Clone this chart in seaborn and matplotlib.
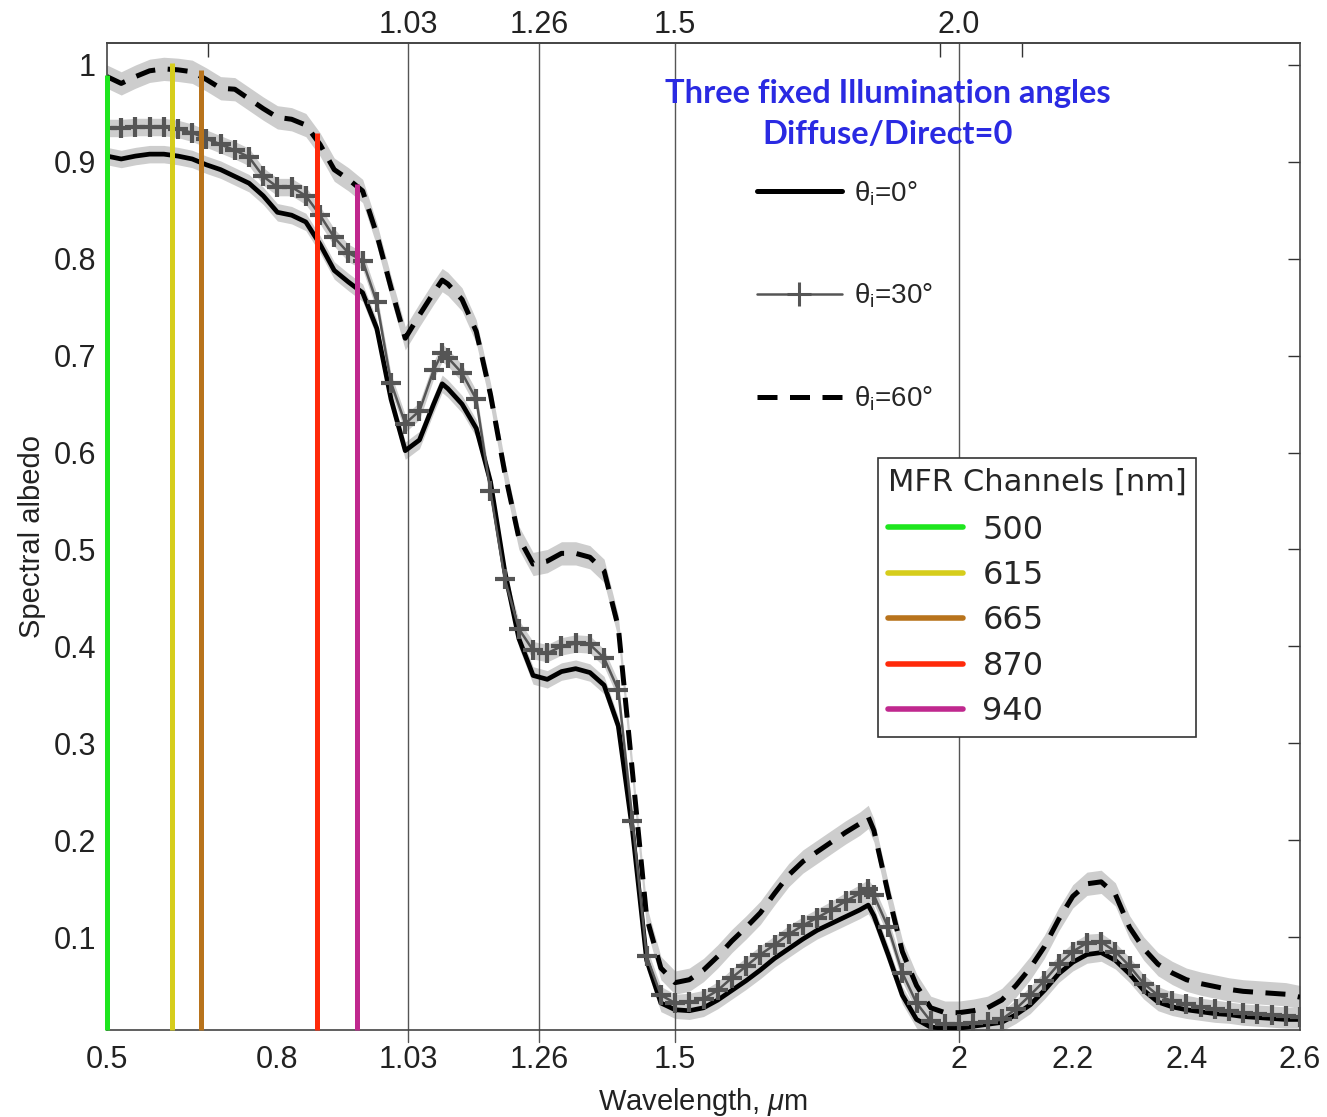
import matplotlib
matplotlib.use("Agg")
import matplotlib.pyplot as plt
import seaborn as sns
import pandas as pd
from matplotlib.lines import Line2D

# ---------------- data ----------------
wavelength_um = [0.500, 0.525, 0.550, 0.575, 0.600, 0.625, 0.650, 0.675, 0.700, 0.725,
                 0.750, 0.775, 0.800, 0.825, 0.850, 0.875, 0.900, 0.925, 0.950, 0.975,
                 1.000, 1.025, 1.050, 1.075, 1.090, 1.100, 1.125, 1.150, 1.175, 1.200,
                 1.225, 1.250, 1.275, 1.300, 1.325, 1.350, 1.375, 1.400, 1.425, 1.450,
                 1.475, 1.500, 1.525, 1.550, 1.575, 1.600, 1.625, 1.650, 1.675, 1.700,
                 1.725, 1.750, 1.775, 1.800, 1.825, 1.840, 1.850, 1.875, 1.900, 1.925,
                 1.950, 1.975, 2.000, 2.025, 2.050, 2.075, 2.100, 2.125, 2.150, 2.175,
                 2.200, 2.225, 2.250, 2.275, 2.300, 2.325, 2.350, 2.375, 2.400, 2.425,
                 2.450, 2.475, 2.500, 2.525, 2.550, 2.575, 2.600]

albedo_theta0 = [0.906, 0.903, 0.906, 0.908, 0.908, 0.906, 0.903, 0.897, 0.892, 0.885,
                 0.878, 0.865, 0.848, 0.845, 0.838, 0.815, 0.788, 0.776, 0.765, 0.728,
                 0.655, 0.602, 0.613, 0.650, 0.671, 0.666, 0.650, 0.625, 0.570, 0.478,
                 0.408, 0.370, 0.366, 0.374, 0.377, 0.373, 0.360, 0.318, 0.210, 0.076,
                 0.032, 0.025, 0.024, 0.027, 0.035, 0.045, 0.055, 0.066, 0.078, 0.088,
                 0.098, 0.107, 0.114, 0.121, 0.128, 0.133, 0.122, 0.082, 0.040, 0.015,
                 0.007, 0.006, 0.006, 0.008, 0.010, 0.012, 0.020, 0.030, 0.045, 0.062,
                 0.074, 0.082, 0.084, 0.076, 0.062, 0.045, 0.033, 0.028, 0.025, 0.023,
                 0.021, 0.020, 0.018, 0.017, 0.016, 0.015, 0.015]

albedo_theta30 = [0.935, 0.935, 0.936, 0.936, 0.936, 0.934, 0.930, 0.924, 0.918, 0.912,
                  0.905, 0.885, 0.874, 0.874, 0.865, 0.845, 0.822, 0.806, 0.798, 0.755,
                  0.672, 0.630, 0.643, 0.685, 0.703, 0.698, 0.682, 0.655, 0.560, 0.470,
                  0.418, 0.396, 0.393, 0.400, 0.403, 0.402, 0.388, 0.355, 0.220, 0.080,
                  0.040, 0.032, 0.033, 0.036, 0.045, 0.058, 0.070, 0.082, 0.092, 0.103,
                  0.112, 0.120, 0.128, 0.137, 0.145, 0.150, 0.143, 0.110, 0.063, 0.032,
                  0.013, 0.010, 0.010, 0.011, 0.012, 0.015, 0.026, 0.040, 0.055, 0.072,
                  0.085, 0.094, 0.095, 0.085, 0.070, 0.052, 0.040, 0.034, 0.031, 0.028,
                  0.026, 0.024, 0.022, 0.021, 0.020, 0.019, 0.018]

albedo_theta60 = [0.988, 0.981, 0.988, 0.994, 0.996, 0.995, 0.993, 0.985, 0.976, 0.975,
                  0.965, 0.955, 0.946, 0.944, 0.938, 0.918, 0.892, 0.882, 0.870, 0.825,
                  0.770, 0.718, 0.742, 0.765, 0.778, 0.774, 0.758, 0.725, 0.660, 0.580,
                  0.512, 0.485, 0.488, 0.496, 0.496, 0.492, 0.478, 0.420, 0.270, 0.120,
                  0.068, 0.053, 0.056, 0.066, 0.080, 0.096, 0.110, 0.125, 0.145, 0.164,
                  0.178, 0.188, 0.198, 0.208, 0.217, 0.224, 0.210, 0.145, 0.085, 0.050,
                  0.027, 0.022, 0.022, 0.024, 0.027, 0.035, 0.050, 0.068, 0.090, 0.118,
                  0.142, 0.155, 0.157, 0.144, 0.110, 0.088, 0.072, 0.063, 0.056, 0.052,
                  0.049, 0.046, 0.044, 0.043, 0.042, 0.041, 0.038]

angle_labels = ["θ$_\\mathrm{i}$=0°", "θ$_\\mathrm{i}$=30°", "θ$_\\mathrm{i}$=60°"]

mfr_channels_nm = [500, 615, 665, 870, 940]
mfr_line_tops = [0.990, 1.002, 0.995, 0.930, 0.877]
mfr_colors = ["#1ee61e", "#d6cd1c", "#b8731c", "#ff2a0a", "#c0288e"]

xtick_vals = [0.5, 0.8, 1.03, 1.26, 1.5, 2.0, 2.2, 2.4, 2.6]
xtick_labels = ["0.5", "0.8", "1.03", "1.26", "1.5", "2", "2.2", "2.4", "2.6"]
top_vals = [1.03, 1.26, 1.5, 2.0]
top_labels = ["1.03", "1.26", "1.5", "2.0"]
top_minor_vals = [0.678, 1.967, 2.111]
ytick_vals = [0.1, 0.2, 0.3, 0.4, 0.5, 0.6, 0.7, 0.8, 0.9, 1.0]
ytick_labels = ["0.1", "0.2", "0.3", "0.4", "0.5", "0.6", "0.7", "0.8", "0.9", "1"]

title_lines = ["Three fixed Illumination angles", "Diffuse/Direct=0"]

# ---------------- style ----------------
sns.set_theme(style="white")
plt.rcParams["font.family"] = ["Liberation Sans", "DejaVu Sans"]
plt.rcParams["mathtext.fontset"] = "custom"
plt.rcParams["mathtext.rm"] = "Liberation Sans"
plt.rcParams["mathtext.it"] = "Liberation Sans:italic"
plt.rcParams["mathtext.bf"] = "Liberation Sans:bold"

W, H = 1327, 1117
fig = plt.figure(figsize=(W / 100, H / 100), dpi=100)
fig.patch.set_facecolor("white")
L, R, T, B = 107, 1300, 43, 1030
ax = fig.add_axes([L / W, 1 - B / H, (R - L) / W, (B - T) / H])

XMIN, XMAX = 0.5, 2.6
YMIN, YMAX = 0.0041, 1.0227
ax.set_xlim(XMIN, XMAX)
ax.set_ylim(YMIN, YMAX)

df = pd.DataFrame({"wl": wavelength_um, "a0": albedo_theta0,
                   "a30": albedo_theta30, "a60": albedo_theta60})

band_col = "#cdcdcd"
for col, hw in (("a0", 0.009), ("a30", 0.009), ("a60", 0.012)):
    ax.fill_between(df["wl"], df[col] - hw, df[col] + hw, color=band_col, lw=0, zorder=1)

# reference grid lines
for xv in top_vals:
    ax.axvline(xv, ymin=-0.012, ymax=1, color="#555555", lw=1.0, clip_on=False, zorder=1.5)

sns.lineplot(data=df, x="wl", y="a0", ax=ax, color="black", lw=3.4,
             sort=False, errorbar=None, zorder=3)
sns.lineplot(data=df, x="wl", y="a60", ax=ax, color="black", lw=3.6,
             ls=(0, (4, 2.5)), sort=False, errorbar=None, zorder=3)
sns.lineplot(data=df, x="wl", y="a30", ax=ax, color="#555555", lw=1.8,
             marker="+", markersize=14, markeredgewidth=3.0, markeredgecolor="#555555",
             sort=False, errorbar=None, zorder=4)

# MFR channel lines
ax.vlines([c / 1000 for c in mfr_channels_nm], YMIN, mfr_line_tops,
          colors=mfr_colors, lw=3.6, zorder=5, clip_on=False)

# axes cosmetics
ax.set_xticks(xtick_vals, xtick_labels)
ax.set_yticks(ytick_vals, ytick_labels)
ax.tick_params(axis="both", direction="in", length=9, width=1.0, colors="#333333",
               labelcolor="#222222", labelsize=22)
ax.tick_params(axis="x", pad=11)
ax.tick_params(axis="y", pad=8, right=True)
for s in ax.spines.values():
    s.set_color("#444444")
    s.set_linewidth(1.2)

sec = ax.secondary_xaxis("top")
sec.set_xticks(top_vals, top_labels)
sec.set_xticks(top_minor_vals, minor=True)
sec.tick_params(axis="x", which="major", direction="in", length=0, pad=2,
                labelsize=22, labelcolor="#222222")
sec.tick_params(axis="x", which="minor", direction="in", length=10, width=1.0, colors="#333333")
sec.spines["top"].set_color("#444444")

ax.set_xlabel("Wavelength, $\\mu$m", fontsize=21, labelpad=8, color="#222222")
ax.set_ylabel("Spectral albedo", fontsize=21, labelpad=5, color="#222222")

# angle legend
h1 = [Line2D([], [], color="black", lw=3.6),
      Line2D([], [], color="#555555", lw=1.8, marker="+", markersize=17, markeredgewidth=2.2),
      Line2D([], [], color="black", lw=3.6, ls=(0, (4, 2.5)))]
leg1 = ax.legend(h1, angle_labels, loc="upper left",
                 bbox_to_anchor=(757 / W, 1 - 179 / H), bbox_transform=fig.transFigure,
                 frameon=False, prop={"family": "Liberation Sans", "size": 20},
                 handlelength=3.05, handletextpad=0.45, labelspacing=2.68,
                 borderpad=0, borderaxespad=0, numpoints=1)
ax.add_artist(leg1)

fig.text(888 / W, 1 - 94 / H, title_lines[0], ha="center", va="center",
         fontsize=23.5, fontweight="bold", family="Lato", color="#2a2ae2")
fig.text(888 / W, 1 - 135 / H, title_lines[1], ha="center", va="center",
         fontsize=23.5, fontweight="bold", family="Lato", color="#2a2ae2")

# MFR legend
h2 = [Line2D([], [], color=c, lw=4) for c in mfr_colors]
leg2 = ax.legend(h2, [str(c) for c in mfr_channels_nm], title="MFR Channels [nm]",
                 loc="upper left", bbox_to_anchor=(878 / W, 1 - 458 / H),
                 bbox_transform=fig.transFigure, frameon=True, fancybox=False,
                 edgecolor="#333333", framealpha=1, alignment="left",
                 prop={"family": "DejaVu Sans", "size": 23},
                 title_fontproperties={"family": "DejaVu Sans", "size": 22},
                 handlelength=2.35, handletextpad=0.62, labelspacing=0.45,
                 borderpad=0.3, borderaxespad=0)
leg2._legend_box.sep = 13
leg2.get_frame().set_linewidth(1.2)
leg2.set_zorder(6)

fig.savefig("out.png", dpi=100, facecolor="white")
